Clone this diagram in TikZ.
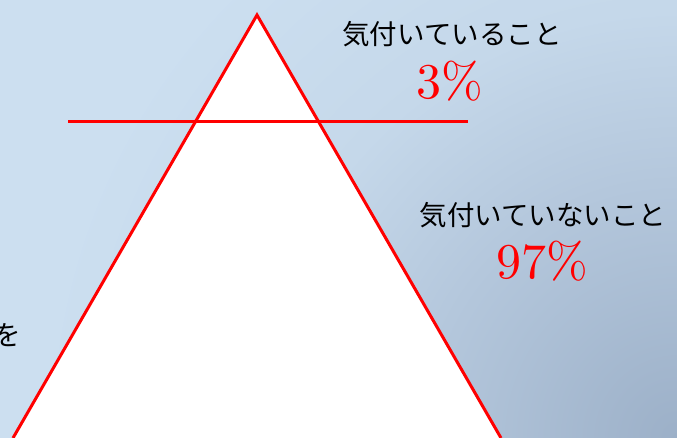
\documentclass[tikz,border=0pt]{standalone}
\usepackage{fontspec}
\newfontfamily\jp{Noto Sans CJK JP}
\newfontfamily\lmten{lmroman10-regular.otf}
\definecolor{bgA}{RGB}{204,223,240}
\definecolor{bgB}{RGB}{197,216,234}
\definecolor{bgM}{RGB}{180,199,220}
\definecolor{bgC}{RGB}{156,176,200}
\definecolor{tri}{RGB}{255,0,0}
\pgfdeclareradialshading{cornerglow}{\pgfpoint{0bp}{0bp}}{color(0bp)=(bgC); color(10bp)=(bgM); color(16.7bp)=(bgB); color(25bp)=(bgA); color(50bp)=(bgA)}
\tikzset{
  redline/.style={draw=tri, line width=3pt, line join=miter},
  jplabel/.style={font=\jp\fontsize{27.5}{30}\selectfont, text=black, inner sep=0pt},
  pct/.style={font=\lmten\fontsize{50}{54}\selectfont, text=tri, inner sep=0pt},
}
\begin{document}
\begin{tikzpicture}[x=1pt,y=-1pt]
\useasboundingbox (0,0) rectangle (677,438);
\begin{scope}
\clip (0,0) rectangle (677,438);
\fill[bgA] (0,0) rectangle (677,438);
\shade[shading=cornerglow] (677,438) circle[radius=640];
\end{scope}
\coordinate (apex) at (257,15);
\coordinate (bl) at (13,438);
\coordinate (br) at (501,438);
\fill[white] (apex) -- (bl) -- (br) -- cycle;
\draw[redline] (bl) -- (apex) -- (br);
\coordinate (hl) at (68,122);
\coordinate (hr) at (468,122);
\draw[redline] (hl) -- (hr);
\node[jplabel] (t1) at (452,34) {気付いていること};
\node[pct] (p1) at (450,81) {3\%};
\node[jplabel] (t2) at (543,215) {気付いていないこと};
\node[pct] (p2) at (542,261) {97\%};
\node[jplabel] (t3) at (7,335) {を};
\end{tikzpicture}
\end{document}
